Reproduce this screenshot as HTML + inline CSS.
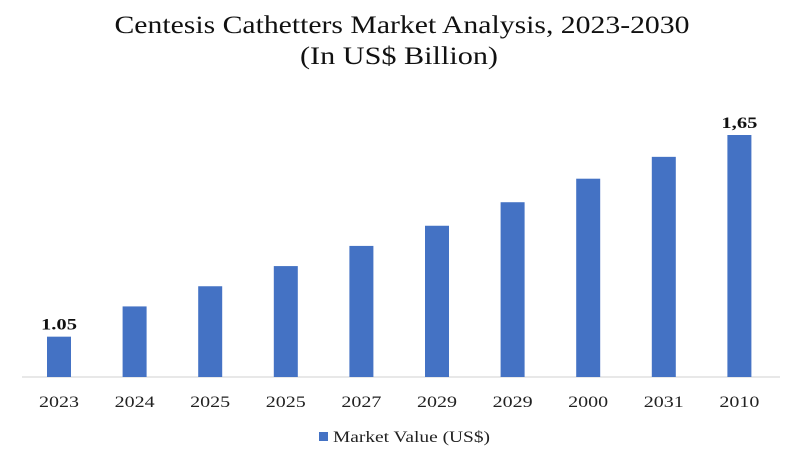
<!DOCTYPE html>
<html><head><meta charset="utf-8"><style>
html,body{margin:0;padding:0;background:#fff;}
svg{display:block;font-family:"Liberation Serif",serif;}
</style></head><body>
<svg id="chart" width="800" height="456" viewBox="0 0 800 456">
<text x="402" y="33" text-anchor="middle" font-size="25" textLength="575" lengthAdjust="spacingAndGlyphs" fill="#111">Centesis Cathetters Market Analysis, 2023-2030</text>
<text x="399" y="64" text-anchor="middle" font-size="25" textLength="198" lengthAdjust="spacingAndGlyphs" fill="#111">(In US$ Billion)</text>
<line x1="22" y1="377" x2="780" y2="377" stroke="#d0d0d0" stroke-width="1"/>
<g id="bars"></g>
<g>
<rect x="319" y="432" width="9" height="9" fill="#4472c4"/>
<text x="333" y="442" font-size="16" textLength="157" lengthAdjust="spacingAndGlyphs" fill="#222">Market Value (US$)</text>
</g>
</svg>
<script>
const categories=["2023","2024","2025","2025","2027","2029","2029","2000","2031","2010"];
const values=[1.05,1.14,1.20,1.26,1.32,1.38,1.45,1.52,1.585,1.65];
const valueLabels=["1.05","","","","","","","","","1,65"];
const ymin=0.93, ymax=1.65;
const baseY=377, topY=135;
function yScale(v){return baseY-(v-ymin)/(ymax-ymin)*(baseY-topY);}
function xScale(i){return 59+i*75.6;}
const g=document.getElementById('bars');
const NS="http://www.w3.org/2000/svg";
categories.forEach((c,i)=>{
  const x=xScale(i), y=yScale(values[i]);
  const r=document.createElementNS(NS,'rect');
  r.setAttribute('x',x-12);r.setAttribute('y',y);r.setAttribute('width',24);r.setAttribute('height',baseY-y);
  r.setAttribute('fill','#4472c4');
  
  
  g.appendChild(r);
  const t=document.createElementNS(NS,'text');
  t.setAttribute('x',x);t.setAttribute('y',407);t.setAttribute('text-anchor','middle');
  t.setAttribute('font-size','16');t.setAttribute('fill','#222');
  t.setAttribute('textLength','40');t.setAttribute('lengthAdjust','spacingAndGlyphs');
  t.textContent=c;
  
  
  g.appendChild(t);
  if(valueLabels[i]){
    const l=document.createElementNS(NS,'text');
    l.setAttribute('x',x);l.setAttribute('y',y-7);l.setAttribute('text-anchor','middle');
    l.setAttribute('font-size','16');l.setAttribute('font-weight','bold');l.setAttribute('fill','#111');
    l.setAttribute('textLength','36');l.setAttribute('lengthAdjust','spacingAndGlyphs');
    l.textContent=valueLabels[i];
    
    
    g.appendChild(l);
  }
});
</script>
</body></html>
